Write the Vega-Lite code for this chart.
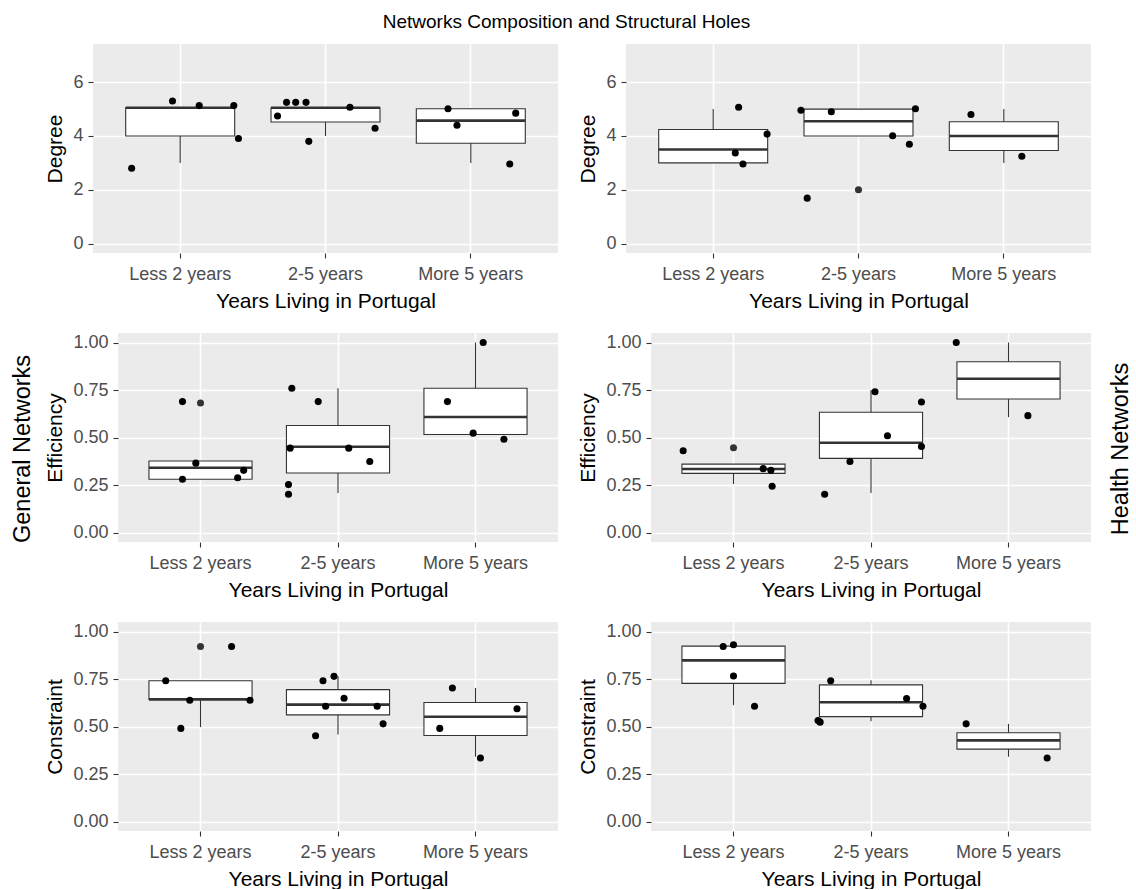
{
  "$schema": "https://vega.github.io/schema/vega-lite/v6.json",
  "padding": {"left": 0, "top": 13, "right": 0, "bottom": 0},
  "title": {"text": "Networks Composition and Structural Holes", "fontSize": 19, "fontWeight": "normal", "anchor": "middle", "offset": 12, "font": "Liberation Sans", "color": "#000000"},
  "config": {
    "font": "Liberation Sans",
    "view": {"stroke": null},
    "axis": {"domain": false, "tickColor": "#333333", "tickSize": 5, "tickWidth": 1.1, "labelColor": "#4D4D4D", "labelFontSize": 18, "labelFont": "Liberation Sans", "titleFontSize": 21, "titleFont": "Liberation Sans", "titleFontWeight": "normal", "titleColor": "#000000", "gridColor": "#FFFFFF", "labelOverlap": false, "labelLimit": 300},
    "axisX": {"labelAngle": 0, "labelPadding": 7, "titlePadding": 7},
    "axisY": {"labelPadding": 5, "titlePadding": 7}
  },
  "datasets": {
    "stats": [
      {"net": "General", "measure": "Degree", "years": "Less 2 years", "min": 3, "q1": 4, "median": 5.05, "q3": 5.05, "max": 5.05},
      {"net": "General", "measure": "Degree", "years": "2-5 years", "min": 4, "q1": 4.52, "median": 5.05, "q3": 5.05, "max": 5.05},
      {"net": "General", "measure": "Degree", "years": "More 5 years", "min": 3, "q1": 3.73, "median": 4.57, "q3": 5.01, "max": 5.01},
      {"net": "Health", "measure": "Degree", "years": "Less 2 years", "min": 3, "q1": 3, "median": 3.5, "q3": 4.24, "max": 5},
      {"net": "Health", "measure": "Degree", "years": "2-5 years", "min": 4, "q1": 4, "median": 4.55, "q3": 5, "max": 5},
      {"net": "Health", "measure": "Degree", "years": "More 5 years", "min": 3, "q1": 3.46, "median": 4, "q3": 4.53, "max": 5},
      {"net": "General", "measure": "Efficiency", "years": "Less 2 years", "min": 0.28, "q1": 0.28, "median": 0.341, "q3": 0.376, "max": 0.376},
      {"net": "General", "measure": "Efficiency", "years": "2-5 years", "min": 0.208, "q1": 0.313, "median": 0.451, "q3": 0.563, "max": 0.759},
      {"net": "General", "measure": "Efficiency", "years": "More 5 years", "min": 0.516, "q1": 0.516, "median": 0.608, "q3": 0.759, "max": 1.0},
      {"net": "Health", "measure": "Efficiency", "years": "Less 2 years", "min": 0.255, "q1": 0.311, "median": 0.334, "q3": 0.36, "max": 0.36},
      {"net": "Health", "measure": "Efficiency", "years": "2-5 years", "min": 0.208, "q1": 0.39, "median": 0.472, "q3": 0.633, "max": 0.75},
      {"net": "Health", "measure": "Efficiency", "years": "More 5 years", "min": 0.607, "q1": 0.703, "median": 0.809, "q3": 0.899, "max": 1.0},
      {"net": "General", "measure": "Constraint", "years": "Less 2 years", "min": 0.497, "q1": 0.643, "median": 0.643, "q3": 0.741, "max": 0.741},
      {"net": "General", "measure": "Constraint", "years": "2-5 years", "min": 0.458, "q1": 0.561, "median": 0.615, "q3": 0.694, "max": 0.764},
      {"net": "General", "measure": "Constraint", "years": "More 5 years", "min": 0.341, "q1": 0.453, "median": 0.551, "q3": 0.626, "max": 0.703},
      {"net": "Health", "measure": "Constraint", "years": "Less 2 years", "min": 0.612, "q1": 0.727, "median": 0.848, "q3": 0.923, "max": 0.923},
      {"net": "Health", "measure": "Constraint", "years": "2-5 years", "min": 0.528, "q1": 0.552, "median": 0.628, "q3": 0.719, "max": 0.743},
      {"net": "Health", "measure": "Constraint", "years": "More 5 years", "min": 0.341, "q1": 0.381, "median": 0.427, "q3": 0.467, "max": 0.514}
    ],
    "points": [
      {"net": "General", "measure": "Degree", "years": "Less 2 years", "jitter": -0.053, "value": 5.30, "kind": "jitter"},
      {"net": "General", "measure": "Degree", "years": "Less 2 years", "jitter": 0.131, "value": 5.13, "kind": "jitter"},
      {"net": "General", "measure": "Degree", "years": "Less 2 years", "jitter": 0.369, "value": 5.13, "kind": "jitter"},
      {"net": "General", "measure": "Degree", "years": "Less 2 years", "jitter": 0.401, "value": 3.91, "kind": "jitter"},
      {"net": "General", "measure": "Degree", "years": "Less 2 years", "jitter": -0.334, "value": 2.80, "kind": "jitter"},
      {"net": "General", "measure": "Degree", "years": "2-5 years", "jitter": -0.268, "value": 5.25, "kind": "jitter"},
      {"net": "General", "measure": "Degree", "years": "2-5 years", "jitter": -0.205, "value": 5.25, "kind": "jitter"},
      {"net": "General", "measure": "Degree", "years": "2-5 years", "jitter": -0.134, "value": 5.25, "kind": "jitter"},
      {"net": "General", "measure": "Degree", "years": "2-5 years", "jitter": -0.33, "value": 4.74, "kind": "jitter"},
      {"net": "General", "measure": "Degree", "years": "2-5 years", "jitter": 0.168, "value": 5.07, "kind": "jitter"},
      {"net": "General", "measure": "Degree", "years": "2-5 years", "jitter": 0.341, "value": 4.29, "kind": "jitter"},
      {"net": "General", "measure": "Degree", "years": "2-5 years", "jitter": -0.115, "value": 3.80, "kind": "jitter"},
      {"net": "General", "measure": "Degree", "years": "More 5 years", "jitter": -0.157, "value": 5.01, "kind": "jitter"},
      {"net": "General", "measure": "Degree", "years": "More 5 years", "jitter": -0.095, "value": 4.40, "kind": "jitter"},
      {"net": "General", "measure": "Degree", "years": "More 5 years", "jitter": 0.309, "value": 4.85, "kind": "jitter"},
      {"net": "General", "measure": "Degree", "years": "More 5 years", "jitter": 0.268, "value": 2.96, "kind": "jitter"},
      {"net": "Health", "measure": "Degree", "years": "Less 2 years", "jitter": 0.175, "value": 5.07, "kind": "jitter"},
      {"net": "Health", "measure": "Degree", "years": "Less 2 years", "jitter": 0.371, "value": 4.07, "kind": "jitter"},
      {"net": "Health", "measure": "Degree", "years": "Less 2 years", "jitter": 0.152, "value": 3.37, "kind": "jitter"},
      {"net": "Health", "measure": "Degree", "years": "Less 2 years", "jitter": 0.205, "value": 2.96, "kind": "jitter"},
      {"net": "Health", "measure": "Degree", "years": "2-5 years", "jitter": 0, "value": 2.0, "kind": "outlier"},
      {"net": "Health", "measure": "Degree", "years": "2-5 years", "jitter": -0.396, "value": 4.96, "kind": "jitter"},
      {"net": "Health", "measure": "Degree", "years": "2-5 years", "jitter": -0.187, "value": 4.90, "kind": "jitter"},
      {"net": "Health", "measure": "Degree", "years": "2-5 years", "jitter": 0.392, "value": 5.01, "kind": "jitter"},
      {"net": "Health", "measure": "Degree", "years": "2-5 years", "jitter": 0.235, "value": 4.01, "kind": "jitter"},
      {"net": "Health", "measure": "Degree", "years": "2-5 years", "jitter": 0.35, "value": 3.69, "kind": "jitter"},
      {"net": "Health", "measure": "Degree", "years": "2-5 years", "jitter": -0.353, "value": 1.69, "kind": "jitter"},
      {"net": "Health", "measure": "Degree", "years": "More 5 years", "jitter": -0.226, "value": 4.80, "kind": "jitter"},
      {"net": "Health", "measure": "Degree", "years": "More 5 years", "jitter": 0.124, "value": 3.25, "kind": "jitter"},
      {"net": "General", "measure": "Efficiency", "years": "Less 2 years", "jitter": 0, "value": 0.682, "kind": "outlier"},
      {"net": "General", "measure": "Efficiency", "years": "Less 2 years", "jitter": -0.131, "value": 0.689, "kind": "jitter"},
      {"net": "General", "measure": "Efficiency", "years": "Less 2 years", "jitter": -0.034, "value": 0.365, "kind": "jitter"},
      {"net": "General", "measure": "Efficiency", "years": "Less 2 years", "jitter": -0.131, "value": 0.280, "kind": "jitter"},
      {"net": "General", "measure": "Efficiency", "years": "Less 2 years", "jitter": 0.27, "value": 0.288, "kind": "jitter"},
      {"net": "General", "measure": "Efficiency", "years": "Less 2 years", "jitter": 0.314, "value": 0.327, "kind": "jitter"},
      {"net": "General", "measure": "Efficiency", "years": "2-5 years", "jitter": -0.336, "value": 0.759, "kind": "jitter"},
      {"net": "General", "measure": "Efficiency", "years": "2-5 years", "jitter": -0.144, "value": 0.689, "kind": "jitter"},
      {"net": "General", "measure": "Efficiency", "years": "2-5 years", "jitter": -0.348, "value": 0.444, "kind": "jitter"},
      {"net": "General", "measure": "Efficiency", "years": "2-5 years", "jitter": 0.078, "value": 0.444, "kind": "jitter"},
      {"net": "General", "measure": "Efficiency", "years": "2-5 years", "jitter": 0.231, "value": 0.374, "kind": "jitter"},
      {"net": "General", "measure": "Efficiency", "years": "2-5 years", "jitter": -0.36, "value": 0.252, "kind": "jitter"},
      {"net": "General", "measure": "Efficiency", "years": "2-5 years", "jitter": -0.36, "value": 0.201, "kind": "jitter"},
      {"net": "General", "measure": "Efficiency", "years": "More 5 years", "jitter": 0.056, "value": 1.0, "kind": "jitter"},
      {"net": "General", "measure": "Efficiency", "years": "More 5 years", "jitter": -0.204, "value": 0.689, "kind": "jitter"},
      {"net": "General", "measure": "Efficiency", "years": "More 5 years", "jitter": -0.017, "value": 0.523, "kind": "jitter"},
      {"net": "General", "measure": "Efficiency", "years": "More 5 years", "jitter": 0.207, "value": 0.491, "kind": "jitter"},
      {"net": "Health", "measure": "Efficiency", "years": "Less 2 years", "jitter": 0, "value": 0.446, "kind": "outlier"},
      {"net": "Health", "measure": "Efficiency", "years": "Less 2 years", "jitter": -0.366, "value": 0.430, "kind": "jitter"},
      {"net": "Health", "measure": "Efficiency", "years": "Less 2 years", "jitter": 0.216, "value": 0.336, "kind": "jitter"},
      {"net": "Health", "measure": "Efficiency", "years": "Less 2 years", "jitter": 0.272, "value": 0.327, "kind": "jitter"},
      {"net": "Health", "measure": "Efficiency", "years": "Less 2 years", "jitter": 0.281, "value": 0.243, "kind": "jitter"},
      {"net": "Health", "measure": "Efficiency", "years": "2-5 years", "jitter": 0.029, "value": 0.741, "kind": "jitter"},
      {"net": "Health", "measure": "Efficiency", "years": "2-5 years", "jitter": 0.367, "value": 0.687, "kind": "jitter"},
      {"net": "Health", "measure": "Efficiency", "years": "2-5 years", "jitter": 0.12, "value": 0.509, "kind": "jitter"},
      {"net": "Health", "measure": "Efficiency", "years": "2-5 years", "jitter": 0.367, "value": 0.453, "kind": "jitter"},
      {"net": "Health", "measure": "Efficiency", "years": "2-5 years", "jitter": -0.153, "value": 0.374, "kind": "jitter"},
      {"net": "Health", "measure": "Efficiency", "years": "2-5 years", "jitter": -0.337, "value": 0.201, "kind": "jitter"},
      {"net": "Health", "measure": "Efficiency", "years": "More 5 years", "jitter": -0.38, "value": 1.0, "kind": "jitter"},
      {"net": "Health", "measure": "Efficiency", "years": "More 5 years", "jitter": 0.141, "value": 0.615, "kind": "jitter"},
      {"net": "General", "measure": "Constraint", "years": "Less 2 years", "jitter": 0, "value": 0.921, "kind": "outlier"},
      {"net": "General", "measure": "Constraint", "years": "Less 2 years", "jitter": -0.253, "value": 0.741, "kind": "jitter"},
      {"net": "General", "measure": "Constraint", "years": "Less 2 years", "jitter": -0.078, "value": 0.638, "kind": "jitter"},
      {"net": "General", "measure": "Constraint", "years": "Less 2 years", "jitter": 0.36, "value": 0.638, "kind": "jitter"},
      {"net": "General", "measure": "Constraint", "years": "Less 2 years", "jitter": -0.143, "value": 0.490, "kind": "jitter"},
      {"net": "General", "measure": "Constraint", "years": "Less 2 years", "jitter": 0.226, "value": 0.921, "kind": "jitter"},
      {"net": "General", "measure": "Constraint", "years": "2-5 years", "jitter": -0.109, "value": 0.741, "kind": "jitter"},
      {"net": "General", "measure": "Constraint", "years": "2-5 years", "jitter": -0.029, "value": 0.764, "kind": "jitter"},
      {"net": "General", "measure": "Constraint", "years": "2-5 years", "jitter": -0.09, "value": 0.607, "kind": "jitter"},
      {"net": "General", "measure": "Constraint", "years": "2-5 years", "jitter": 0.044, "value": 0.649, "kind": "jitter"},
      {"net": "General", "measure": "Constraint", "years": "2-5 years", "jitter": 0.285, "value": 0.607, "kind": "jitter"},
      {"net": "General", "measure": "Constraint", "years": "2-5 years", "jitter": 0.328, "value": 0.514, "kind": "jitter"},
      {"net": "General", "measure": "Constraint", "years": "2-5 years", "jitter": -0.163, "value": 0.451, "kind": "jitter"},
      {"net": "General", "measure": "Constraint", "years": "More 5 years", "jitter": -0.168, "value": 0.703, "kind": "jitter"},
      {"net": "General", "measure": "Constraint", "years": "More 5 years", "jitter": 0.302, "value": 0.593, "kind": "jitter"},
      {"net": "General", "measure": "Constraint", "years": "More 5 years", "jitter": -0.26, "value": 0.490, "kind": "jitter"},
      {"net": "General", "measure": "Constraint", "years": "More 5 years", "jitter": 0.036, "value": 0.334, "kind": "jitter"},
      {"net": "Health", "measure": "Constraint", "years": "Less 2 years", "jitter": -0.075, "value": 0.921, "kind": "jitter"},
      {"net": "Health", "measure": "Constraint", "years": "Less 2 years", "jitter": 0.0, "value": 0.930, "kind": "jitter"},
      {"net": "Health", "measure": "Constraint", "years": "Less 2 years", "jitter": 0.0, "value": 0.766, "kind": "jitter"},
      {"net": "Health", "measure": "Constraint", "years": "Less 2 years", "jitter": 0.153, "value": 0.607, "kind": "jitter"},
      {"net": "Health", "measure": "Constraint", "years": "2-5 years", "jitter": -0.293, "value": 0.741, "kind": "jitter"},
      {"net": "Health", "measure": "Constraint", "years": "2-5 years", "jitter": 0.259, "value": 0.647, "kind": "jitter"},
      {"net": "Health", "measure": "Constraint", "years": "2-5 years", "jitter": 0.378, "value": 0.607, "kind": "jitter"},
      {"net": "Health", "measure": "Constraint", "years": "2-5 years", "jitter": -0.385, "value": 0.531, "kind": "jitter"},
      {"net": "Health", "measure": "Constraint", "years": "2-5 years", "jitter": -0.37, "value": 0.523, "kind": "jitter"},
      {"net": "Health", "measure": "Constraint", "years": "More 5 years", "jitter": -0.308, "value": 0.514, "kind": "jitter"},
      {"net": "Health", "measure": "Constraint", "years": "More 5 years", "jitter": 0.281, "value": 0.334, "kind": "jitter"}
    ]
  },
  "spacing": 22,
  "vconcat": [
    {
      "spacing": 8,
      "hconcat": [
        {"width": 36, "height": 209, "data": {"values": []}, "mark": "point", "encoding": {}},
        {
          "width": 465, "height": 209,
          "view": {"fill": "#EBEBEB", "stroke": null},
          "resolve": {"scale": {"x": "independent", "xOffset": "independent"}, "axis": {"x": "independent"}},
          "layer": [
            {
              "encoding": {"x": {"field": "years", "type": "nominal", "sort": ["Less 2 years", "2-5 years", "More 5 years"], "scale": {"paddingInner": 0, "paddingOuter": 0.1}, "title": "Years Living in Portugal", "axis": {"grid": true, "gridWidth": 1.6}}},
              "layer": [
                {"data": {"name": "stats"}, "transform": [{"filter": "datum.net === 'General' && datum.measure === 'Degree'"}], "mark": {"type": "rule", "color": "#333333", "strokeWidth": 1.1},
                 "encoding": {"y": {"field": "min", "type": "quantitative", "title": "Degree", "scale": {"domain": [-0.35, 7.42], "nice": false, "zero": false}, "axis": {"values": [0, 1, 2, 3, 4, 5, 6, 7], "labelExpr": "datum.value % 2 === 0 ? datum.label : ''", "gridWidth": {"condition": {"test": "datum.value % 2 === 0", "value": 1.6}, "value": 0.8}, "tickOpacity": {"condition": {"test": "datum.value % 2 === 0", "value": 1}, "value": 0}}}, "y2": {"field": "max"}}},
                {"data": {"name": "stats"}, "transform": [{"filter": "datum.net === 'General' && datum.measure === 'Degree'"}], "mark": {"type": "bar", "width": {"band": 0.75}, "fill": "#FFFFFF", "stroke": "#333333", "strokeWidth": 1.1},
                 "encoding": {"y": {"field": "q1", "type": "quantitative", "title": "Degree", "scale": {"domain": [-0.35, 7.42], "nice": false, "zero": false}}, "y2": {"field": "q3"}}},
                {"data": {"name": "stats"}, "transform": [{"filter": "datum.net === 'General' && datum.measure === 'Degree'"}], "mark": {"type": "tick", "color": "#333333", "thickness": 2.6, "size": 109, "opacity": 1},
                 "encoding": {"y": {"field": "median", "type": "quantitative", "title": "Degree", "scale": {"domain": [-0.35, 7.42], "nice": false, "zero": false}}}}
              ]
            },
            {"data": {"name": "points"}, "transform": [{"filter": "datum.net === 'General' && datum.measure === 'Degree'"}], "mark": {"type": "point", "filled": true, "opacity": 1, "size": 50},
             "encoding": {"x": {"field": "years", "type": "nominal", "sort": ["Less 2 years", "2-5 years", "More 5 years"], "scale": {"paddingInner": 0, "paddingOuter": 0.1}, "axis": null}, "y": {"field": "value", "type": "quantitative", "title": "Degree", "scale": {"domain": [-0.35, 7.42], "nice": false, "zero": false}}, "xOffset": {"field": "jitter", "type": "quantitative", "scale": {"domain": [-0.5, 0.5]}}, "color": {"field": "kind", "type": "nominal", "scale": {"domain": ["jitter", "outlier"], "range": ["#000000", "#333333"]}, "legend": null}}}
          ]
        },
        {"width": 3, "height": 209, "data": {"values": []}, "mark": "point", "encoding": {}},
        {
          "width": 465, "height": 209,
          "view": {"fill": "#EBEBEB", "stroke": null},
          "resolve": {"scale": {"x": "independent", "xOffset": "independent"}, "axis": {"x": "independent"}},
          "layer": [
            {
              "encoding": {"x": {"field": "years", "type": "nominal", "sort": ["Less 2 years", "2-5 years", "More 5 years"], "scale": {"paddingInner": 0, "paddingOuter": 0.1}, "title": "Years Living in Portugal", "axis": {"grid": true, "gridWidth": 1.6}}},
              "layer": [
                {"data": {"name": "stats"}, "transform": [{"filter": "datum.net === 'Health' && datum.measure === 'Degree'"}], "mark": {"type": "rule", "color": "#333333", "strokeWidth": 1.1},
                 "encoding": {"y": {"field": "min", "type": "quantitative", "title": "Degree", "scale": {"domain": [-0.35, 7.42], "nice": false, "zero": false}, "axis": {"values": [0, 1, 2, 3, 4, 5, 6, 7], "labelExpr": "datum.value % 2 === 0 ? datum.label : ''", "gridWidth": {"condition": {"test": "datum.value % 2 === 0", "value": 1.6}, "value": 0.8}, "tickOpacity": {"condition": {"test": "datum.value % 2 === 0", "value": 1}, "value": 0}}}, "y2": {"field": "max"}}},
                {"data": {"name": "stats"}, "transform": [{"filter": "datum.net === 'Health' && datum.measure === 'Degree'"}], "mark": {"type": "bar", "width": {"band": 0.75}, "fill": "#FFFFFF", "stroke": "#333333", "strokeWidth": 1.1},
                 "encoding": {"y": {"field": "q1", "type": "quantitative", "title": "Degree", "scale": {"domain": [-0.35, 7.42], "nice": false, "zero": false}}, "y2": {"field": "q3"}}},
                {"data": {"name": "stats"}, "transform": [{"filter": "datum.net === 'Health' && datum.measure === 'Degree'"}], "mark": {"type": "tick", "color": "#333333", "thickness": 2.6, "size": 109, "opacity": 1},
                 "encoding": {"y": {"field": "median", "type": "quantitative", "title": "Degree", "scale": {"domain": [-0.35, 7.42], "nice": false, "zero": false}}}}
              ]
            },
            {"data": {"name": "points"}, "transform": [{"filter": "datum.net === 'Health' && datum.measure === 'Degree'"}], "mark": {"type": "point", "filled": true, "opacity": 1, "size": 50},
             "encoding": {"x": {"field": "years", "type": "nominal", "sort": ["Less 2 years", "2-5 years", "More 5 years"], "scale": {"paddingInner": 0, "paddingOuter": 0.1}, "axis": null}, "y": {"field": "value", "type": "quantitative", "title": "Degree", "scale": {"domain": [-0.35, 7.42], "nice": false, "zero": false}}, "xOffset": {"field": "jitter", "type": "quantitative", "scale": {"domain": [-0.5, 0.5]}}, "color": {"field": "kind", "type": "nominal", "scale": {"domain": ["jitter", "outlier"], "range": ["#000000", "#333333"]}, "legend": null}}}
          ]
        }
      ]
    },
    {
      "spacing": 8,
      "hconcat": [
        {"width": 36, "height": 232, "data": {"values": [{"label": "General Networks"}]}, "mark": {"type": "text", "angle": 270, "fontSize": 23.5, "baseline": "middle", "align": "center", "dy": 5, "font": "Liberation Sans", "color": "#000000"}, "encoding": {"text": {"field": "label", "type": "nominal"}}},
        {
          "width": 440, "height": 209,
          "view": {"fill": "#EBEBEB", "stroke": null},
          "resolve": {"scale": {"x": "independent", "xOffset": "independent"}, "axis": {"x": "independent"}},
          "layer": [
            {
              "encoding": {"x": {"field": "years", "type": "nominal", "sort": ["Less 2 years", "2-5 years", "More 5 years"], "scale": {"paddingInner": 0, "paddingOuter": 0.1}, "title": "Years Living in Portugal", "axis": {"grid": true, "gridWidth": 1.6}}},
              "layer": [
                {"data": {"name": "stats"}, "transform": [{"filter": "datum.net === 'General' && datum.measure === 'Efficiency'"}], "mark": {"type": "rule", "color": "#333333", "strokeWidth": 1.1},
                 "encoding": {"y": {"field": "min", "type": "quantitative", "title": "Efficiency", "scale": {"domain": [-0.05, 1.05], "nice": false, "zero": false}, "axis": {"values": [0, 0.125, 0.25, 0.375, 0.5, 0.625, 0.75, 0.875, 1], "format": ".2f", "labelExpr": "round(datum.value * 8) % 2 === 0 ? datum.label : ''", "gridWidth": {"condition": {"test": "round(datum.value * 8) % 2 === 0", "value": 1.6}, "value": 0.8}, "tickOpacity": {"condition": {"test": "round(datum.value * 8) % 2 === 0", "value": 1}, "value": 0}}}, "y2": {"field": "max"}}},
                {"data": {"name": "stats"}, "transform": [{"filter": "datum.net === 'General' && datum.measure === 'Efficiency'"}], "mark": {"type": "bar", "width": {"band": 0.75}, "fill": "#FFFFFF", "stroke": "#333333", "strokeWidth": 1.1},
                 "encoding": {"y": {"field": "q1", "type": "quantitative", "title": "Efficiency", "scale": {"domain": [-0.05, 1.05], "nice": false, "zero": false}}, "y2": {"field": "q3"}}},
                {"data": {"name": "stats"}, "transform": [{"filter": "datum.net === 'General' && datum.measure === 'Efficiency'"}], "mark": {"type": "tick", "color": "#333333", "thickness": 2.6, "size": 103, "opacity": 1},
                 "encoding": {"y": {"field": "median", "type": "quantitative", "title": "Efficiency", "scale": {"domain": [-0.05, 1.05], "nice": false, "zero": false}}}}
              ]
            },
            {"data": {"name": "points"}, "transform": [{"filter": "datum.net === 'General' && datum.measure === 'Efficiency'"}], "mark": {"type": "point", "filled": true, "opacity": 1, "size": 50},
             "encoding": {"x": {"field": "years", "type": "nominal", "sort": ["Less 2 years", "2-5 years", "More 5 years"], "scale": {"paddingInner": 0, "paddingOuter": 0.1}, "axis": null}, "y": {"field": "value", "type": "quantitative", "title": "Efficiency", "scale": {"domain": [-0.05, 1.05], "nice": false, "zero": false}}, "xOffset": {"field": "jitter", "type": "quantitative", "scale": {"domain": [-0.5, 0.5]}}, "color": {"field": "kind", "type": "nominal", "scale": {"domain": ["jitter", "outlier"], "range": ["#000000", "#333333"]}, "legend": null}}}
          ]
        },
        {"width": 3, "height": 209, "data": {"values": []}, "mark": "point", "encoding": {}},
        {
          "width": 440, "height": 209,
          "view": {"fill": "#EBEBEB", "stroke": null},
          "resolve": {"scale": {"x": "independent", "xOffset": "independent"}, "axis": {"x": "independent"}},
          "layer": [
            {
              "encoding": {"x": {"field": "years", "type": "nominal", "sort": ["Less 2 years", "2-5 years", "More 5 years"], "scale": {"paddingInner": 0, "paddingOuter": 0.1}, "title": "Years Living in Portugal", "axis": {"grid": true, "gridWidth": 1.6}}},
              "layer": [
                {"data": {"name": "stats"}, "transform": [{"filter": "datum.net === 'Health' && datum.measure === 'Efficiency'"}], "mark": {"type": "rule", "color": "#333333", "strokeWidth": 1.1},
                 "encoding": {"y": {"field": "min", "type": "quantitative", "title": "Efficiency", "scale": {"domain": [-0.05, 1.05], "nice": false, "zero": false}, "axis": {"values": [0, 0.125, 0.25, 0.375, 0.5, 0.625, 0.75, 0.875, 1], "format": ".2f", "labelExpr": "round(datum.value * 8) % 2 === 0 ? datum.label : ''", "gridWidth": {"condition": {"test": "round(datum.value * 8) % 2 === 0", "value": 1.6}, "value": 0.8}, "tickOpacity": {"condition": {"test": "round(datum.value * 8) % 2 === 0", "value": 1}, "value": 0}}}, "y2": {"field": "max"}}},
                {"data": {"name": "stats"}, "transform": [{"filter": "datum.net === 'Health' && datum.measure === 'Efficiency'"}], "mark": {"type": "bar", "width": {"band": 0.75}, "fill": "#FFFFFF", "stroke": "#333333", "strokeWidth": 1.1},
                 "encoding": {"y": {"field": "q1", "type": "quantitative", "title": "Efficiency", "scale": {"domain": [-0.05, 1.05], "nice": false, "zero": false}}, "y2": {"field": "q3"}}},
                {"data": {"name": "stats"}, "transform": [{"filter": "datum.net === 'Health' && datum.measure === 'Efficiency'"}], "mark": {"type": "tick", "color": "#333333", "thickness": 2.6, "size": 103, "opacity": 1},
                 "encoding": {"y": {"field": "median", "type": "quantitative", "title": "Efficiency", "scale": {"domain": [-0.05, 1.05], "nice": false, "zero": false}}}}
              ]
            },
            {"data": {"name": "points"}, "transform": [{"filter": "datum.net === 'Health' && datum.measure === 'Efficiency'"}], "mark": {"type": "point", "filled": true, "opacity": 1, "size": 50},
             "encoding": {"x": {"field": "years", "type": "nominal", "sort": ["Less 2 years", "2-5 years", "More 5 years"], "scale": {"paddingInner": 0, "paddingOuter": 0.1}, "axis": null}, "y": {"field": "value", "type": "quantitative", "title": "Efficiency", "scale": {"domain": [-0.05, 1.05], "nice": false, "zero": false}}, "xOffset": {"field": "jitter", "type": "quantitative", "scale": {"domain": [-0.5, 0.5]}}, "color": {"field": "kind", "type": "nominal", "scale": {"domain": ["jitter", "outlier"], "range": ["#000000", "#333333"]}, "legend": null}}}
          ]
        },
        {"width": 34, "height": 232, "data": {"values": [{"label": "Health Networks"}]}, "mark": {"type": "text", "angle": 270, "fontSize": 23.5, "baseline": "middle", "align": "center", "dy": 5, "font": "Liberation Sans", "color": "#000000"}, "encoding": {"text": {"field": "label", "type": "nominal"}}}
      ]
    },
    {
      "spacing": 8,
      "hconcat": [
        {"width": 36, "height": 209, "data": {"values": []}, "mark": "point", "encoding": {}},
        {
          "width": 440, "height": 209,
          "view": {"fill": "#EBEBEB", "stroke": null},
          "resolve": {"scale": {"x": "independent", "xOffset": "independent"}, "axis": {"x": "independent"}},
          "layer": [
            {
              "encoding": {"x": {"field": "years", "type": "nominal", "sort": ["Less 2 years", "2-5 years", "More 5 years"], "scale": {"paddingInner": 0, "paddingOuter": 0.1}, "title": "Years Living in Portugal", "axis": {"grid": true, "gridWidth": 1.6}}},
              "layer": [
                {"data": {"name": "stats"}, "transform": [{"filter": "datum.net === 'General' && datum.measure === 'Constraint'"}], "mark": {"type": "rule", "color": "#333333", "strokeWidth": 1.1},
                 "encoding": {"y": {"field": "min", "type": "quantitative", "title": "Constraint", "scale": {"domain": [-0.05, 1.05], "nice": false, "zero": false}, "axis": {"values": [0, 0.125, 0.25, 0.375, 0.5, 0.625, 0.75, 0.875, 1], "format": ".2f", "labelExpr": "round(datum.value * 8) % 2 === 0 ? datum.label : ''", "gridWidth": {"condition": {"test": "round(datum.value * 8) % 2 === 0", "value": 1.6}, "value": 0.8}, "tickOpacity": {"condition": {"test": "round(datum.value * 8) % 2 === 0", "value": 1}, "value": 0}}}, "y2": {"field": "max"}}},
                {"data": {"name": "stats"}, "transform": [{"filter": "datum.net === 'General' && datum.measure === 'Constraint'"}], "mark": {"type": "bar", "width": {"band": 0.75}, "fill": "#FFFFFF", "stroke": "#333333", "strokeWidth": 1.1},
                 "encoding": {"y": {"field": "q1", "type": "quantitative", "title": "Constraint", "scale": {"domain": [-0.05, 1.05], "nice": false, "zero": false}}, "y2": {"field": "q3"}}},
                {"data": {"name": "stats"}, "transform": [{"filter": "datum.net === 'General' && datum.measure === 'Constraint'"}], "mark": {"type": "tick", "color": "#333333", "thickness": 2.6, "size": 103, "opacity": 1},
                 "encoding": {"y": {"field": "median", "type": "quantitative", "title": "Constraint", "scale": {"domain": [-0.05, 1.05], "nice": false, "zero": false}}}}
              ]
            },
            {"data": {"name": "points"}, "transform": [{"filter": "datum.net === 'General' && datum.measure === 'Constraint'"}], "mark": {"type": "point", "filled": true, "opacity": 1, "size": 50},
             "encoding": {"x": {"field": "years", "type": "nominal", "sort": ["Less 2 years", "2-5 years", "More 5 years"], "scale": {"paddingInner": 0, "paddingOuter": 0.1}, "axis": null}, "y": {"field": "value", "type": "quantitative", "title": "Constraint", "scale": {"domain": [-0.05, 1.05], "nice": false, "zero": false}}, "xOffset": {"field": "jitter", "type": "quantitative", "scale": {"domain": [-0.5, 0.5]}}, "color": {"field": "kind", "type": "nominal", "scale": {"domain": ["jitter", "outlier"], "range": ["#000000", "#333333"]}, "legend": null}}}
          ]
        },
        {"width": 3, "height": 209, "data": {"values": []}, "mark": "point", "encoding": {}},
        {
          "width": 440, "height": 209,
          "view": {"fill": "#EBEBEB", "stroke": null},
          "resolve": {"scale": {"x": "independent", "xOffset": "independent"}, "axis": {"x": "independent"}},
          "layer": [
            {
              "encoding": {"x": {"field": "years", "type": "nominal", "sort": ["Less 2 years", "2-5 years", "More 5 years"], "scale": {"paddingInner": 0, "paddingOuter": 0.1}, "title": "Years Living in Portugal", "axis": {"grid": true, "gridWidth": 1.6}}},
              "layer": [
                {"data": {"name": "stats"}, "transform": [{"filter": "datum.net === 'Health' && datum.measure === 'Constraint'"}], "mark": {"type": "rule", "color": "#333333", "strokeWidth": 1.1},
                 "encoding": {"y": {"field": "min", "type": "quantitative", "title": "Constraint", "scale": {"domain": [-0.05, 1.05], "nice": false, "zero": false}, "axis": {"values": [0, 0.125, 0.25, 0.375, 0.5, 0.625, 0.75, 0.875, 1], "format": ".2f", "labelExpr": "round(datum.value * 8) % 2 === 0 ? datum.label : ''", "gridWidth": {"condition": {"test": "round(datum.value * 8) % 2 === 0", "value": 1.6}, "value": 0.8}, "tickOpacity": {"condition": {"test": "round(datum.value * 8) % 2 === 0", "value": 1}, "value": 0}}}, "y2": {"field": "max"}}},
                {"data": {"name": "stats"}, "transform": [{"filter": "datum.net === 'Health' && datum.measure === 'Constraint'"}], "mark": {"type": "bar", "width": {"band": 0.75}, "fill": "#FFFFFF", "stroke": "#333333", "strokeWidth": 1.1},
                 "encoding": {"y": {"field": "q1", "type": "quantitative", "title": "Constraint", "scale": {"domain": [-0.05, 1.05], "nice": false, "zero": false}}, "y2": {"field": "q3"}}},
                {"data": {"name": "stats"}, "transform": [{"filter": "datum.net === 'Health' && datum.measure === 'Constraint'"}], "mark": {"type": "tick", "color": "#333333", "thickness": 2.6, "size": 103, "opacity": 1},
                 "encoding": {"y": {"field": "median", "type": "quantitative", "title": "Constraint", "scale": {"domain": [-0.05, 1.05], "nice": false, "zero": false}}}}
              ]
            },
            {"data": {"name": "points"}, "transform": [{"filter": "datum.net === 'Health' && datum.measure === 'Constraint'"}], "mark": {"type": "point", "filled": true, "opacity": 1, "size": 50},
             "encoding": {"x": {"field": "years", "type": "nominal", "sort": ["Less 2 years", "2-5 years", "More 5 years"], "scale": {"paddingInner": 0, "paddingOuter": 0.1}, "axis": null}, "y": {"field": "value", "type": "quantitative", "title": "Constraint", "scale": {"domain": [-0.05, 1.05], "nice": false, "zero": false}}, "xOffset": {"field": "jitter", "type": "quantitative", "scale": {"domain": [-0.5, 0.5]}}, "color": {"field": "kind", "type": "nominal", "scale": {"domain": ["jitter", "outlier"], "range": ["#000000", "#333333"]}, "legend": null}}}
          ]
        }
      ]
    }
  ]
}
